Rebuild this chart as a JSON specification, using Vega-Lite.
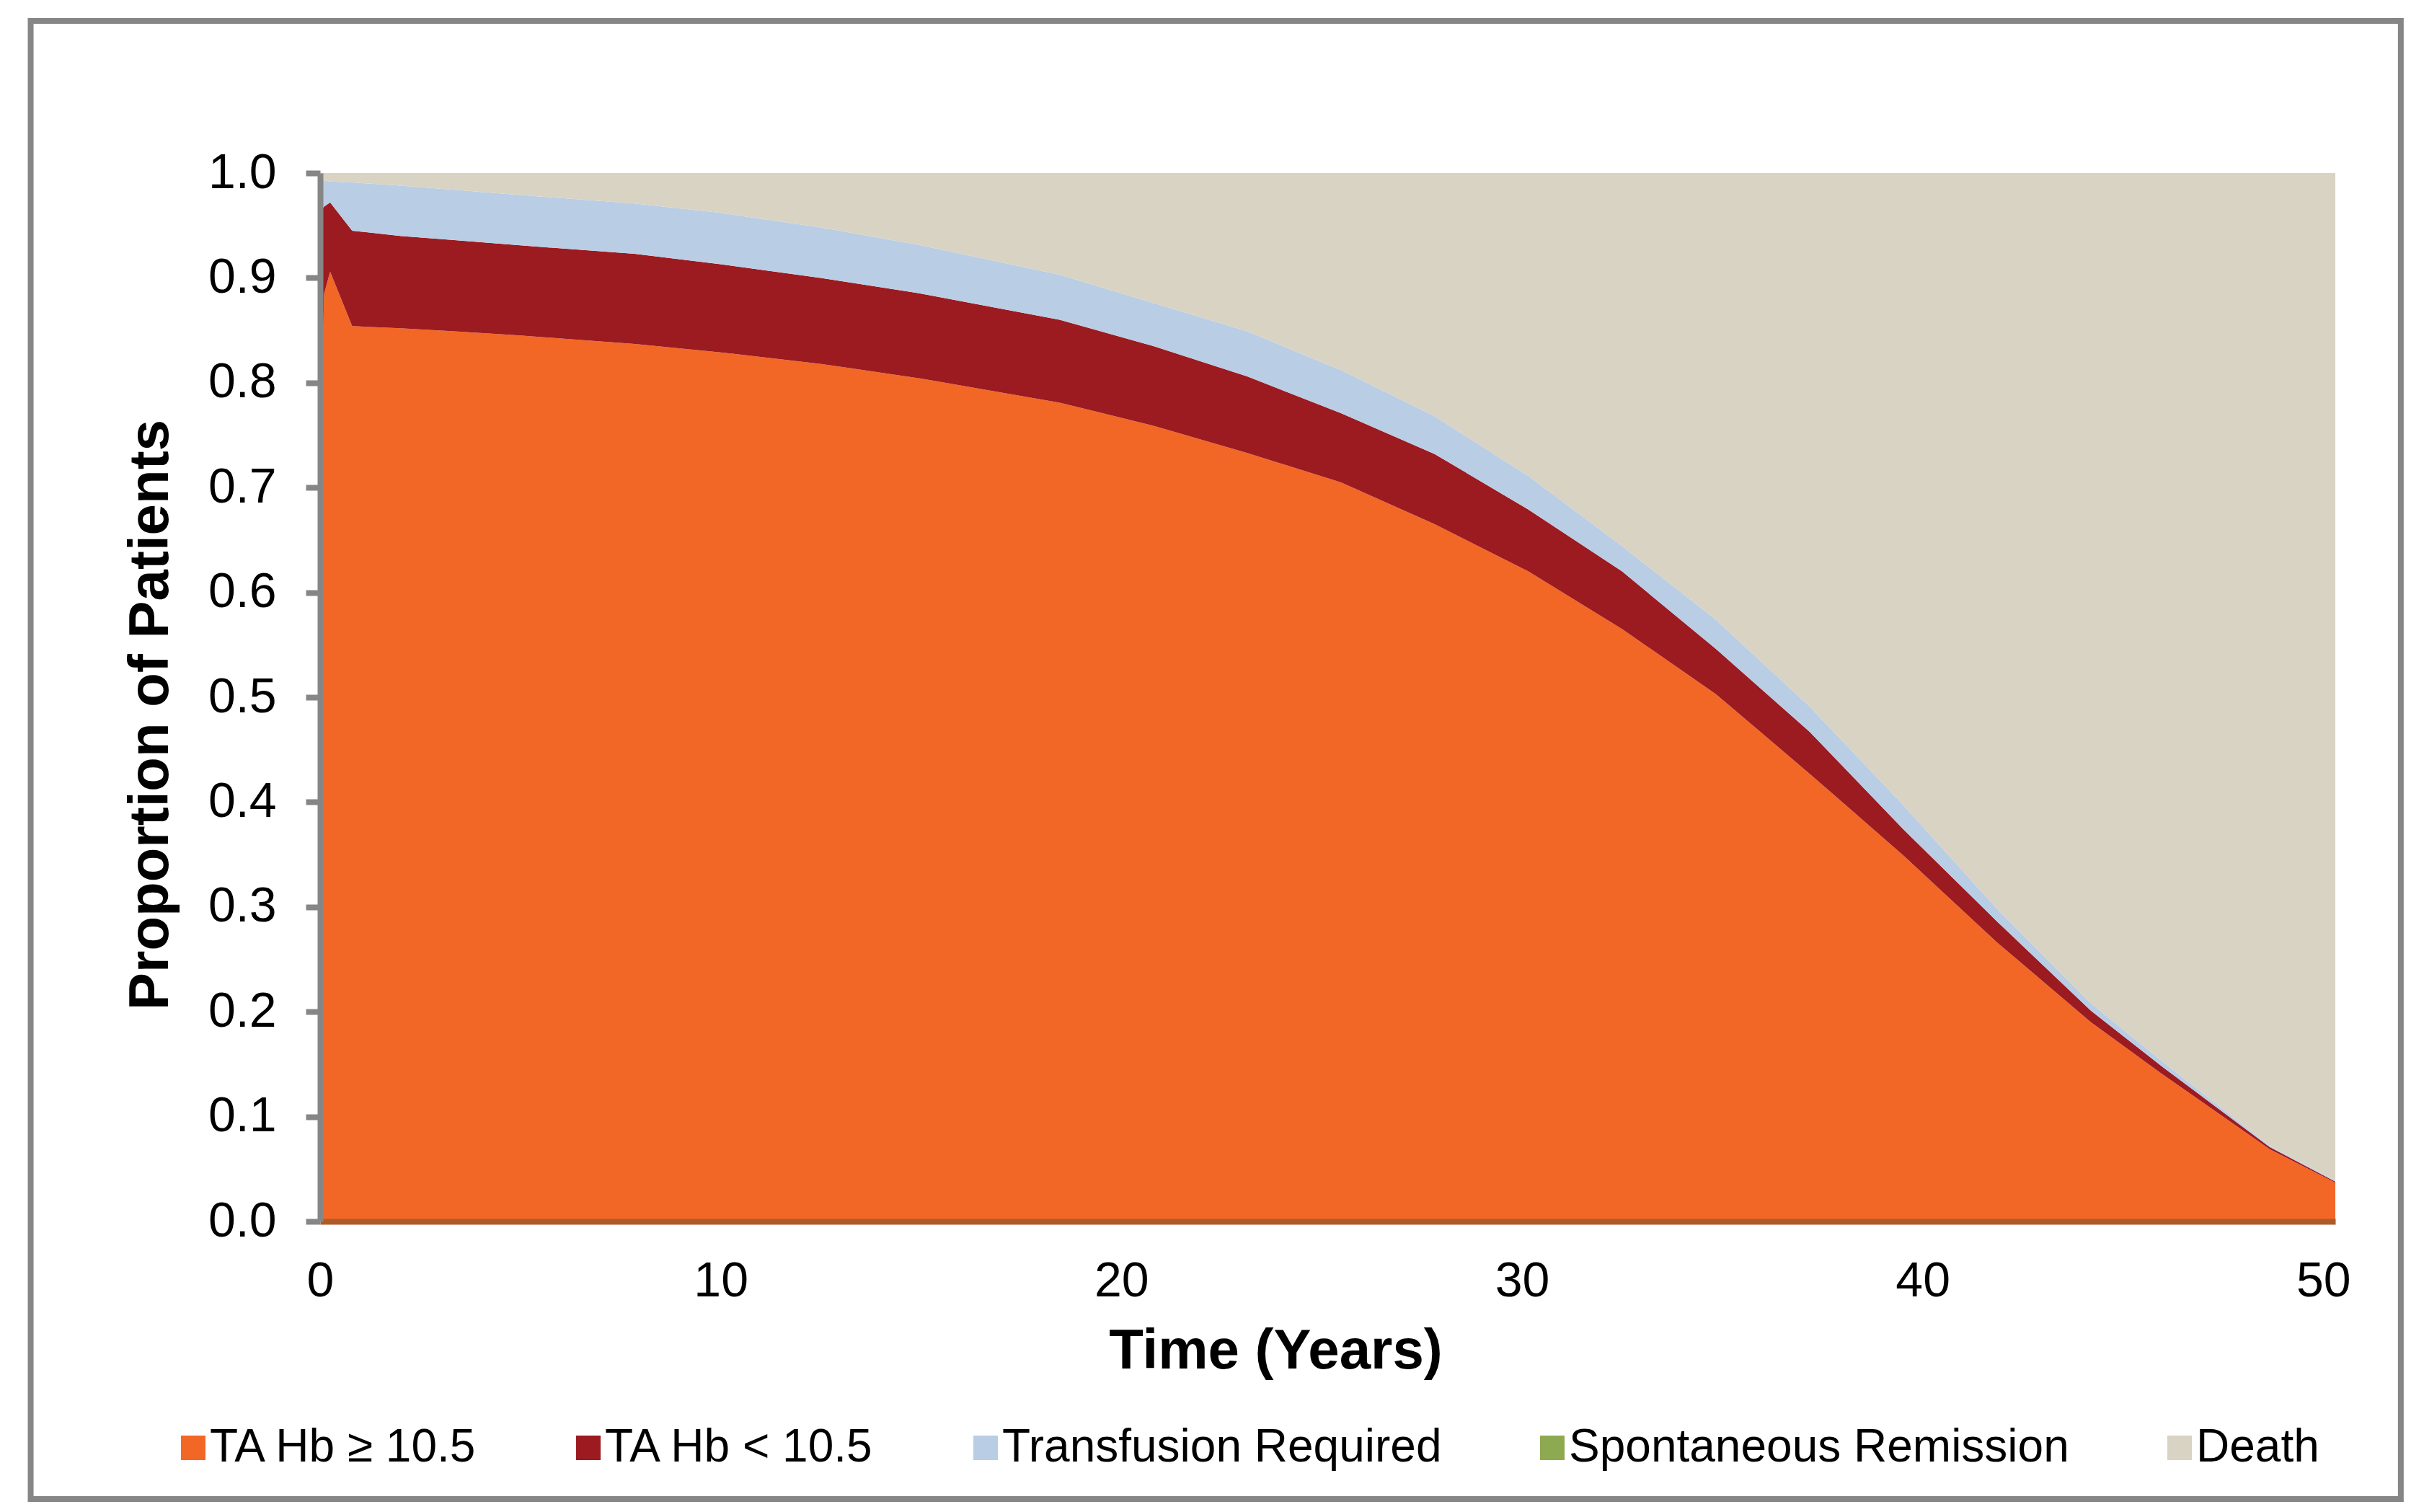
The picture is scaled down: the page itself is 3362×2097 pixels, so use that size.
{
  "$schema": "https://vega.github.io/schema/vega-lite/v6.json",
  "autosize": {"type": "none"},
  "padding": {"left": 444, "top": 240, "right": 123, "bottom": 403},
  "width": 2795,
  "height": 1454,
  "background": "white",
  "config": {
    "view": {"stroke": null},
    "font": "Liberation Sans"
  },
  "layer": [
    {
      "data": {"values": [{}]},
      "mark": {"type": "rect", "filled": false, "stroke": "#868686", "strokeWidth": 8, "clip": false},
      "encoding": {
        "x": {"datum": -7.225, "type": "quantitative"},
        "x2": {"datum": 51.935},
        "y": {"datum": 1.1451, "type": "quantitative"},
        "y2": {"datum": -0.2648}
      }
    },
    {
      "data": {
        "values": [
          {"t": 0, "s": "TA Hb ≥ 10.5", "k": 1, "v": 0.740},
          {"t": 0, "s": "TA Hb < 10.5", "k": 2, "v": 0.223},
          {"t": 0, "s": "Transfusion Required", "k": 3, "v": 0.031},
          {"t": 0, "s": "Spontaneous Remission", "k": 4, "v": 0},
          {"t": 0, "s": "Death", "k": 5, "v": 0.006},
          {"t": 0.1, "s": "TA Hb ≥ 10.5", "k": 1, "v": 0.885},
          {"t": 0.1, "s": "TA Hb < 10.5", "k": 2, "v": 0.083},
          {"t": 0.1, "s": "Transfusion Required", "k": 3, "v": 0.025},
          {"t": 0.1, "s": "Spontaneous Remission", "k": 4, "v": 0},
          {"t": 0.1, "s": "Death", "k": 5, "v": 0.007},
          {"t": 0.25, "s": "TA Hb ≥ 10.5", "k": 1, "v": 0.906},
          {"t": 0.25, "s": "TA Hb < 10.5", "k": 2, "v": 0.066},
          {"t": 0.25, "s": "Transfusion Required", "k": 3, "v": 0.020},
          {"t": 0.25, "s": "Spontaneous Remission", "k": 4, "v": 0},
          {"t": 0.25, "s": "Death", "k": 5, "v": 0.008},
          {"t": 0.8, "s": "TA Hb ≥ 10.5", "k": 1, "v": 0.854},
          {"t": 0.8, "s": "TA Hb < 10.5", "k": 2, "v": 0.091},
          {"t": 0.8, "s": "Transfusion Required", "k": 3, "v": 0.046},
          {"t": 0.8, "s": "Spontaneous Remission", "k": 4, "v": 0},
          {"t": 0.8, "s": "Death", "k": 5, "v": 0.009},
          {"t": 2, "s": "TA Hb ≥ 10.5", "k": 1, "v": 0.852},
          {"t": 2, "s": "TA Hb < 10.5", "k": 2, "v": 0.088},
          {"t": 2, "s": "Transfusion Required", "k": 3, "v": 0.048},
          {"t": 2, "s": "Spontaneous Remission", "k": 4, "v": 0},
          {"t": 2, "s": "Death", "k": 5, "v": 0.012},
          {"t": 3.35, "s": "TA Hb ≥ 10.5", "k": 1, "v": 0.849},
          {"t": 3.35, "s": "TA Hb < 10.5", "k": 2, "v": 0.087},
          {"t": 3.35, "s": "Transfusion Required", "k": 3, "v": 0.048},
          {"t": 3.35, "s": "Spontaneous Remission", "k": 4, "v": 0},
          {"t": 3.35, "s": "Death", "k": 5, "v": 0.016},
          {"t": 5, "s": "TA Hb ≥ 10.5", "k": 1, "v": 0.845},
          {"t": 5, "s": "TA Hb < 10.5", "k": 2, "v": 0.086},
          {"t": 5, "s": "Transfusion Required", "k": 3, "v": 0.048},
          {"t": 5, "s": "Spontaneous Remission", "k": 4, "v": 0},
          {"t": 5, "s": "Death", "k": 5, "v": 0.021},
          {"t": 7.85, "s": "TA Hb ≥ 10.5", "k": 1, "v": 0.837},
          {"t": 7.85, "s": "TA Hb < 10.5", "k": 2, "v": 0.086},
          {"t": 7.85, "s": "Transfusion Required", "k": 3, "v": 0.048},
          {"t": 7.85, "s": "Spontaneous Remission", "k": 4, "v": 0},
          {"t": 7.85, "s": "Death", "k": 5, "v": 0.029},
          {"t": 10, "s": "TA Hb ≥ 10.5", "k": 1, "v": 0.829},
          {"t": 10, "s": "TA Hb < 10.5", "k": 2, "v": 0.084},
          {"t": 10, "s": "Transfusion Required", "k": 3, "v": 0.049},
          {"t": 10, "s": "Spontaneous Remission", "k": 4, "v": 0},
          {"t": 10, "s": "Death", "k": 5, "v": 0.038},
          {"t": 12.5, "s": "TA Hb ≥ 10.5", "k": 1, "v": 0.818},
          {"t": 12.5, "s": "TA Hb < 10.5", "k": 2, "v": 0.082},
          {"t": 12.5, "s": "Transfusion Required", "k": 3, "v": 0.048},
          {"t": 12.5, "s": "Spontaneous Remission", "k": 4, "v": 0},
          {"t": 12.5, "s": "Death", "k": 5, "v": 0.052},
          {"t": 15, "s": "TA Hb ≥ 10.5", "k": 1, "v": 0.804},
          {"t": 15, "s": "TA Hb < 10.5", "k": 2, "v": 0.081},
          {"t": 15, "s": "Transfusion Required", "k": 3, "v": 0.046},
          {"t": 15, "s": "Spontaneous Remission", "k": 4, "v": 0},
          {"t": 15, "s": "Death", "k": 5, "v": 0.069},
          {"t": 18.46, "s": "TA Hb ≥ 10.5", "k": 1, "v": 0.781},
          {"t": 18.46, "s": "TA Hb < 10.5", "k": 2, "v": 0.079},
          {"t": 18.46, "s": "Transfusion Required", "k": 3, "v": 0.043},
          {"t": 18.46, "s": "Spontaneous Remission", "k": 4, "v": 0},
          {"t": 18.46, "s": "Death", "k": 5, "v": 0.097},
          {"t": 20.8, "s": "TA Hb ≥ 10.5", "k": 1, "v": 0.759},
          {"t": 20.8, "s": "TA Hb < 10.5", "k": 2, "v": 0.076},
          {"t": 20.8, "s": "Transfusion Required", "k": 3, "v": 0.041},
          {"t": 20.8, "s": "Spontaneous Remission", "k": 4, "v": 0},
          {"t": 20.8, "s": "Death", "k": 5, "v": 0.124},
          {"t": 23.14, "s": "TA Hb ≥ 10.5", "k": 1, "v": 0.733},
          {"t": 23.14, "s": "TA Hb < 10.5", "k": 2, "v": 0.073},
          {"t": 23.14, "s": "Transfusion Required", "k": 3, "v": 0.043},
          {"t": 23.14, "s": "Spontaneous Remission", "k": 4, "v": 0},
          {"t": 23.14, "s": "Death", "k": 5, "v": 0.151},
          {"t": 25.48, "s": "TA Hb ≥ 10.5", "k": 1, "v": 0.705},
          {"t": 25.48, "s": "TA Hb < 10.5", "k": 2, "v": 0.066},
          {"t": 25.48, "s": "Transfusion Required", "k": 3, "v": 0.041},
          {"t": 25.48, "s": "Spontaneous Remission", "k": 4, "v": 0},
          {"t": 25.48, "s": "Death", "k": 5, "v": 0.188},
          {"t": 27.82, "s": "TA Hb ≥ 10.5", "k": 1, "v": 0.665},
          {"t": 27.82, "s": "TA Hb < 10.5", "k": 2, "v": 0.067},
          {"t": 27.82, "s": "Transfusion Required", "k": 3, "v": 0.036},
          {"t": 27.82, "s": "Spontaneous Remission", "k": 4, "v": 0},
          {"t": 27.82, "s": "Death", "k": 5, "v": 0.232},
          {"t": 30.16, "s": "TA Hb ≥ 10.5", "k": 1, "v": 0.620},
          {"t": 30.16, "s": "TA Hb < 10.5", "k": 2, "v": 0.059},
          {"t": 30.16, "s": "Transfusion Required", "k": 3, "v": 0.032},
          {"t": 30.16, "s": "Spontaneous Remission", "k": 4, "v": 0},
          {"t": 30.16, "s": "Death", "k": 5, "v": 0.289},
          {"t": 32.5, "s": "TA Hb ≥ 10.5", "k": 1, "v": 0.565},
          {"t": 32.5, "s": "TA Hb < 10.5", "k": 2, "v": 0.055},
          {"t": 32.5, "s": "Transfusion Required", "k": 3, "v": 0.024},
          {"t": 32.5, "s": "Spontaneous Remission", "k": 4, "v": 0},
          {"t": 32.5, "s": "Death", "k": 5, "v": 0.356},
          {"t": 34.84, "s": "TA Hb ≥ 10.5", "k": 1, "v": 0.503},
          {"t": 34.84, "s": "TA Hb < 10.5", "k": 2, "v": 0.043},
          {"t": 34.84, "s": "Transfusion Required", "k": 3, "v": 0.028},
          {"t": 34.84, "s": "Spontaneous Remission", "k": 4, "v": 0},
          {"t": 34.84, "s": "Death", "k": 5, "v": 0.426},
          {"t": 37.18, "s": "TA Hb ≥ 10.5", "k": 1, "v": 0.427},
          {"t": 37.18, "s": "TA Hb < 10.5", "k": 2, "v": 0.040},
          {"t": 37.18, "s": "Transfusion Required", "k": 3, "v": 0.024},
          {"t": 37.18, "s": "Spontaneous Remission", "k": 4, "v": 0},
          {"t": 37.18, "s": "Death", "k": 5, "v": 0.509},
          {"t": 39.52, "s": "TA Hb ≥ 10.5", "k": 1, "v": 0.349},
          {"t": 39.52, "s": "TA Hb < 10.5", "k": 2, "v": 0.025},
          {"t": 39.52, "s": "Transfusion Required", "k": 3, "v": 0.023},
          {"t": 39.52, "s": "Spontaneous Remission", "k": 4, "v": 0},
          {"t": 39.52, "s": "Death", "k": 5, "v": 0.603},
          {"t": 41.86, "s": "TA Hb ≥ 10.5", "k": 1, "v": 0.266},
          {"t": 41.86, "s": "TA Hb < 10.5", "k": 2, "v": 0.020},
          {"t": 41.86, "s": "Transfusion Required", "k": 3, "v": 0.012},
          {"t": 41.86, "s": "Spontaneous Remission", "k": 4, "v": 0},
          {"t": 41.86, "s": "Death", "k": 5, "v": 0.702},
          {"t": 44.2, "s": "TA Hb ≥ 10.5", "k": 1, "v": 0.190},
          {"t": 44.2, "s": "TA Hb < 10.5", "k": 2, "v": 0.011},
          {"t": 44.2, "s": "Transfusion Required", "k": 3, "v": 0.007},
          {"t": 44.2, "s": "Spontaneous Remission", "k": 4, "v": 0},
          {"t": 44.2, "s": "Death", "k": 5, "v": 0.792},
          {"t": 46, "s": "TA Hb ≥ 10.5", "k": 1, "v": 0.140},
          {"t": 46, "s": "TA Hb < 10.5", "k": 2, "v": 0.007},
          {"t": 46, "s": "Transfusion Required", "k": 3, "v": 0.005},
          {"t": 46, "s": "Spontaneous Remission", "k": 4, "v": 0},
          {"t": 46, "s": "Death", "k": 5, "v": 0.848},
          {"t": 48.66, "s": "TA Hb ≥ 10.5", "k": 1, "v": 0.069},
          {"t": 48.66, "s": "TA Hb < 10.5", "k": 2, "v": 0.002},
          {"t": 48.66, "s": "Transfusion Required", "k": 3, "v": 0.001},
          {"t": 48.66, "s": "Spontaneous Remission", "k": 4, "v": 0},
          {"t": 48.66, "s": "Death", "k": 5, "v": 0.928},
          {"t": 50.3, "s": "TA Hb ≥ 10.5", "k": 1, "v": 0.037},
          {"t": 50.3, "s": "TA Hb < 10.5", "k": 2, "v": 0.001},
          {"t": 50.3, "s": "Transfusion Required", "k": 3, "v": 0.001},
          {"t": 50.3, "s": "Spontaneous Remission", "k": 4, "v": 0},
          {"t": 50.3, "s": "Death", "k": 5, "v": 0.961}
        ]
      },
      "mark": {"type": "area", "interpolate": "linear"},
      "encoding": {
        "x": {
          "field": "t",
          "type": "quantitative",
          "scale": {"domain": [0, 50.3], "nice": false, "zero": false},
          "axis": {
            "values": [0, 10, 20, 30, 40, 50],
            "format": "d",
            "grid": false,
            "ticks": false,
            "domainColor": "#AE5B29",
            "domainWidth": 8,
            "labelFlush": false,
            "labelPadding": 49,
            "labelFontSize": 68,
            "labelColor": "#000000",
            "labelFont": "Liberation Sans",
            "title": "Time (Years)",
            "titleFont": "Liberation Sans",
            "titleFontSize": 78,
            "titleFontWeight": "bold",
            "titleColor": "#000000",
            "titlePadding": 24,
            "titleX": 1325,
            "zindex": 1
          }
        },
        "y": {
          "field": "v",
          "type": "quantitative",
          "aggregate": "sum",
          "stack": "zero",
          "scale": {"domain": [0, 1], "nice": false},
          "axis": {
            "values": [0, 0.1, 0.2, 0.3, 0.4, 0.5, 0.6, 0.7, 0.8, 0.9, 1],
            "format": ".1f",
            "grid": false,
            "domainColor": "#868686",
            "domainWidth": 8,
            "tickColor": "#868686",
            "tickWidth": 8,
            "tickSize": 20,
            "labelFlush": false,
            "labelPadding": 41,
            "labelFontSize": 68,
            "labelColor": "#000000",
            "labelFont": "Liberation Sans",
            "title": "Proportion of Patients",
            "titleFont": "Liberation Sans",
            "titleFontSize": 78,
            "titleFontWeight": "bold",
            "titleColor": "#000000",
            "titlePadding": 40,
            "titleY": 751,
            "zindex": 1
          }
        },
        "order": {"field": "k", "type": "quantitative"},
        "color": {
          "field": "s",
          "type": "nominal",
          "scale": {
            "domain": ["TA Hb ≥ 10.5", "TA Hb < 10.5", "Transfusion Required", "Spontaneous Remission", "Death"],
            "range": ["#F26726", "#9B1B20", "#B9CDE5", "#8EAA51", "#D9D3C4"]
          },
          "legend": {
            "title": null,
            "orient": "none",
            "direction": "horizontal",
            "columns": 5,
            "legendX": -208,
            "legendY": 1736,
            "padding": 0,
            "symbolType": "square",
            "symbolSize": 1156,
            "symbolStrokeWidth": 0,
            "symbolOpacity": 1,
            "labelFont": "Liberation Sans",
            "labelFontSize": 64,
            "labelColor": "#000000",
            "labelOffset": -9,
            "labelLimit": 0,
            "columnPadding": 121
          }
        }
      }
    }
  ]
}
